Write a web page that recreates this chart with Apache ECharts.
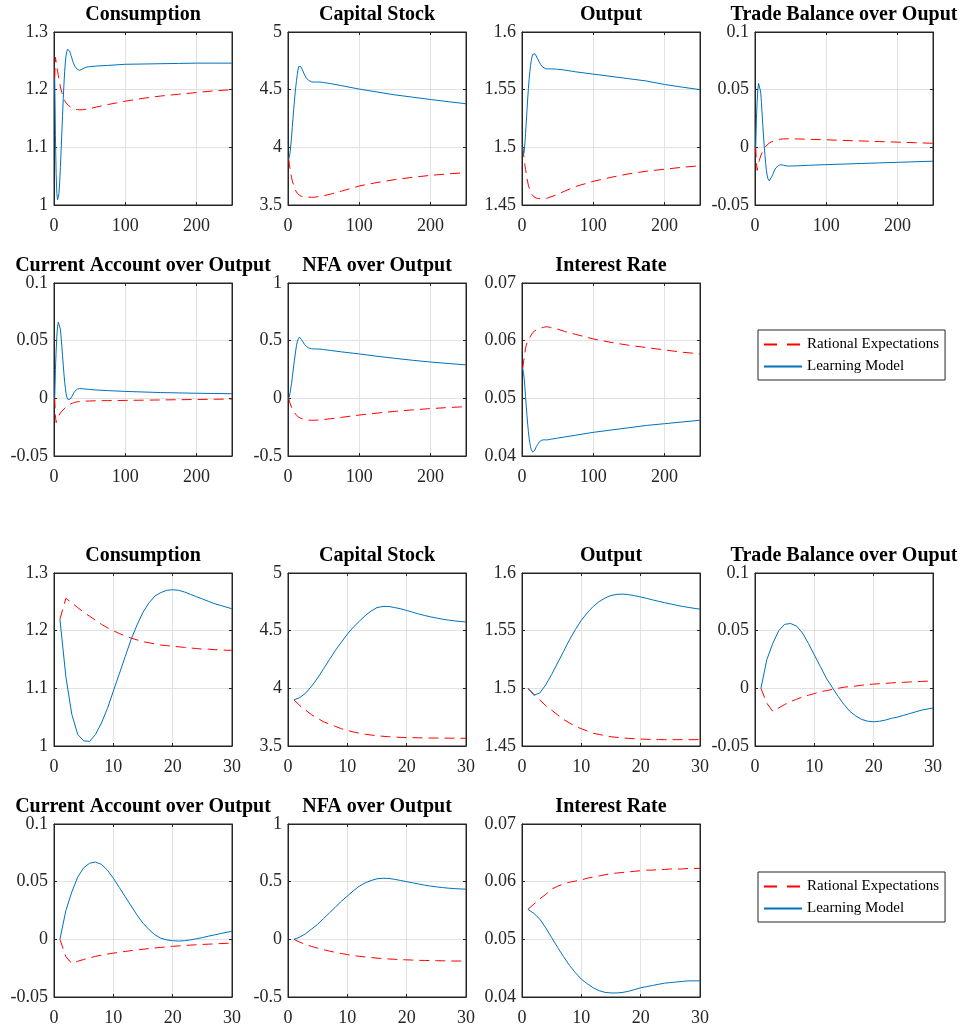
<!DOCTYPE html>
<html><head><meta charset="utf-8">
<script src="https://cdn.jsdelivr.net/npm/echarts@6/dist/echarts.min.js"></script>
<style>html,body{margin:0;padding:0;background:#fff}#c{width:964px;height:1028px}</style>
</head><body><div id="c"></div>
<script>
// ---------- data ----------
const tShort = [1,2,3,4,5,6,7,8,9,10,11,12,13,14,15,16,17,18,19,20,21,22,23,24,25,26,27,28,29,30];
const tExt = [33,36,40,45,50,60,75,100,125,150,175,200,225,250];

const seriesNames = ['Rational Expectations', 'Learning Model'];
const panelTitles = ['Consumption','Capital Stock','Output','Trade Balance over Ouput','Current Account over Output','NFA over Output','Interest Rate'];

// y-axis ranges / tick labels
const yMins = [1, 3.5, 1.45, -0.05, -0.05, -0.5, 0.04];
const yMaxs = [1.3, 5, 1.6, 0.1, 0.1, 1, 0.07];
const ySteps = [0.1, 0.5, 0.05, 0.05, 0.05, 0.5, 0.01];
const xTicksLong = [0, 100, 200];   // max 250
const xTicksShort = [0, 10, 20, 30];

// Consumption
const consRE = [1.22,1.256,1.248,1.24,1.232,1.225,1.218,1.211,1.205,1.2,1.195,1.191,1.187,1.184,1.181,1.179,1.177,1.175,1.174,1.173,1.172,1.171,1.170,1.169,1.168,1.168,1.167,1.167,1.166,1.166];
const consLM = [1.22,1.12,1.055,1.02,1.009,1.008,1.02,1.04,1.065,1.095,1.125,1.155,1.185,1.21,1.232,1.248,1.26,1.266,1.27,1.271,1.27,1.267,1.263,1.259,1.255,1.251,1.247,1.244,1.241,1.238];
const consREExt = [1.1655,1.165,1.1652,1.166,1.167,1.17,1.174,1.18,1.185,1.189,1.192,1.195,1.198,1.2];
const consLMExt = [1.235,1.2335,1.236,1.239,1.24,1.241,1.242,1.244,1.2445,1.245,1.2455,1.246,1.246,1.246];

// Capital stock
const capRE = [3.9,3.85,3.81,3.77,3.74,3.71,3.69,3.67,3.65,3.635,3.622,3.611,3.602,3.595,3.589,3.584,3.58,3.577,3.575,3.573,3.572,3.571,3.57,3.569,3.569,3.568,3.568,3.568,3.567,3.567];
const capLM = [3.9,3.92,3.96,4.02,4.09,4.17,4.25,4.33,4.4,4.47,4.53,4.58,4.63,4.67,4.7,4.71,4.71,4.7,4.69,4.675,4.66,4.645,4.632,4.62,4.61,4.6,4.592,4.585,4.58,4.575];
const capREExt = [3.567,3.567,3.57,3.575,3.58,3.595,3.62,3.665,3.695,3.72,3.74,3.757,3.77,3.78];
const capLMExt = [4.568,4.566,4.566,4.566,4.562,4.552,4.535,4.505,4.48,4.455,4.435,4.415,4.396,4.378];

// Output
const outRE = [1.5,1.495,1.49,1.485,1.481,1.477,1.473,1.47,1.467,1.465,1.463,1.461,1.46,1.459,1.458,1.4575,1.457,1.4566,1.4563,1.456,1.4558,1.4557,1.4556,1.4555,1.4555,1.4555,1.4555,1.4555,1.4555,1.4556];
const outLM = [1.5,1.494,1.496,1.503,1.512,1.522,1.532,1.542,1.551,1.559,1.5655,1.571,1.5752,1.5783,1.5805,1.5815,1.5817,1.5812,1.5803,1.5792,1.578,1.5767,1.5755,1.5743,1.5732,1.5721,1.5711,1.5702,1.5694,1.5687];
const outREExt = [1.4557,1.456,1.457,1.458,1.4595,1.462,1.466,1.4705,1.474,1.477,1.4793,1.481,1.4827,1.484];
const outLMExt = [1.5682,1.568,1.568,1.5679,1.5677,1.567,1.5655,1.5635,1.5615,1.5595,1.5575,1.5545,1.5522,1.55];

// Trade balance over output
const tbRE = [0,-0.013,-0.02,-0.017,-0.014,-0.0115,-0.0095,-0.0075,-0.006,-0.0045,-0.003,-0.002,-0.001,0,0.001,0.0015,0.002,0.0027,0.0032,0.0037,0.004,0.0043,0.0047,0.005,0.0052,0.0055,0.0057,0.006,0.0062,0.0064];
const tbLM = [0,0.025,0.039,0.05,0.0555,0.0562,0.054,0.048,0.039,0.029,0.019,0.009,0.001,-0.007,-0.014,-0.02,-0.024,-0.027,-0.0285,-0.029,-0.0285,-0.0275,-0.026,-0.025,-0.0235,-0.022,-0.0205,-0.019,-0.018,-0.017];
const tbREExt = [0.0068,0.0071,0.0073,0.0074,0.0074,0.0073,0.007,0.0065,0.006,0.0055,0.005,0.0045,0.004,0.0035];
const tbLMExt = [-0.0158,-0.015,-0.0155,-0.0162,-0.0162,-0.016,-0.0156,-0.015,-0.0145,-0.014,-0.0135,-0.013,-0.0125,-0.012];

// Current account over output
const caRE = [0,-0.015,-0.021,-0.019,-0.0175,-0.016,-0.0148,-0.0137,-0.0128,-0.012,-0.0112,-0.0105,-0.0098,-0.0092,-0.0086,-0.008,-0.0075,-0.007,-0.0065,-0.006,-0.0057,-0.0053,-0.005,-0.0047,-0.0044,-0.0042,-0.004,-0.0037,-0.0035,-0.0033];
const caLM = [0,0.025,0.041,0.054,0.062,0.066,0.067,0.065,0.06,0.053,0.045,0.037,0.029,0.021,0.014,0.0085,0.004,0.001,-0.0005,-0.0012,-0.0015,-0.0012,-0.0005,0.0005,0.0015,0.0027,0.0038,0.0049,0.006,0.007];
const caREExt = [-0.003,-0.0028,-0.0026,-0.0024,-0.0023,-0.0021,-0.002,-0.0018,-0.0016,-0.0014,-0.0012,-0.001,-0.0008,-0.0006];
const caLMExt = [0.008,0.0085,0.0083,0.008,0.0077,0.0072,0.0067,0.006,0.0055,0.005,0.0047,0.0044,0.0042,0.004];

// NFA over output
const nfaRE = [0,-0.025,-0.045,-0.062,-0.077,-0.09,-0.102,-0.113,-0.123,-0.132,-0.14,-0.147,-0.153,-0.158,-0.163,-0.167,-0.17,-0.173,-0.176,-0.178,-0.18,-0.182,-0.183,-0.184,-0.185,-0.186,-0.187,-0.188,-0.188,-0.189];
const nfaLM = [0,0.02,0.05,0.09,0.13,0.18,0.23,0.28,0.33,0.375,0.42,0.46,0.49,0.51,0.525,0.53,0.528,0.52,0.51,0.5,0.49,0.48,0.47,0.462,0.455,0.449,0.444,0.44,0.437,0.435];
const nfaREExt = [-0.19,-0.19,-0.189,-0.187,-0.184,-0.177,-0.165,-0.145,-0.128,-0.113,-0.1,-0.089,-0.08,-0.072];
const nfaLMExt = [0.43,0.428,0.428,0.427,0.423,0.415,0.403,0.385,0.365,0.347,0.33,0.315,0.302,0.29];

// Interest rate
const irRE = [0.0552,0.0561,0.057,0.0578,0.0587,0.0592,0.0596,0.0599,0.0601,0.0603,0.0606,0.0608,0.061,0.0612,0.0614,0.0615,0.0616,0.0617,0.0618,0.0619,0.062,0.062,0.0621,0.0621,0.0622,0.0622,0.0622,0.0623,0.0623,0.0623];
const irLM = [0.0552,0.0545,0.0535,0.052,0.0503,0.0486,0.047,0.0455,0.0442,0.0431,0.0423,0.0416,0.0411,0.0408,0.0407,0.0407,0.0408,0.041,0.0413,0.0416,0.0418,0.042,0.0422,0.0424,0.0425,0.0426,0.0427,0.0428,0.0428,0.0428];
const irREExt = [0.0624,0.0624,0.0623,0.0621,0.062,0.0616,0.0611,0.0603,0.0597,0.0592,0.0588,0.0584,0.058,0.0577];
const irLMExt = [0.0428,0.0428,0.0429,0.043,0.0431,0.0433,0.0436,0.0441,0.0445,0.0449,0.0453,0.0456,0.0459,0.0462];

const shortRE = [consRE, capRE, outRE, tbRE, caRE, nfaRE, irRE];
const shortLM = [consLM, capLM, outLM, tbLM, caLM, nfaLM, irLM];
const extRE = [consREExt, capREExt, outREExt, tbREExt, caREExt, nfaREExt, irREExt];
const extLM = [consLMExt, capLMExt, outLMExt, tbLMExt, caLMExt, nfaLMExt, irLMExt];

// ---------- layout ----------
const colLeft = [54, 288, 522, 755];
const rowTop = [32, 283, 573, 824];
const plotW = 178, plotH = 173;
const FONT = 'Liberation Serif';
const AXC = '#262626';

const grids = [], xAxes = [], yAxes = [], series = [], titles = [];
function pairs(xs, ys) { return xs.map((x, i) => [x, ys[i]]); }

let gi = 0;
for (let group = 0; group < 2; group++) {
  const isLong = group === 0;
  for (let p = 0; p < 7; p++) {
    const row = group * 2 + (p < 4 ? 0 : 1);
    const col = p % 4;
    const left = colLeft[col], top = rowTop[row];
    grids.push({ left: left, top: top, width: plotW, height: plotH, containLabel: false,
      show: true, borderColor: AXC, borderWidth: 1, backgroundColor: '#fff' });
    titles.push({ text: panelTitles[p], left: left + plotW / 2, top: top - 27, textAlign: 'center', padding: 0,
      textStyle: { fontFamily: FONT, fontSize: 20, fontWeight: 'bold', color: '#000' } });
    const xMax = isLong ? 250 : 30;
    const xInt = isLong ? 100 : 10;
    const baseX = { type: 'value', gridIndex: gi, min: 0, max: xMax, interval: xInt };
    xAxes.push(Object.assign({}, baseX, { position: 'bottom',
      axisLine: { show: true, onZero: false, lineStyle: { color: AXC, width: 1 } },
      axisTick: { show: true, inside: true, length: 3, lineStyle: { color: AXC } },
      axisLabel: { show: true, margin: 12, showMaxLabel: !isLong, showMinLabel: true,
        fontFamily: FONT, fontSize: 18, color: AXC },
      splitLine: { show: true, lineStyle: { color: '#e2e2e2', width: 1 } } }));
    xAxes.push(Object.assign({}, baseX, { position: 'top',
      axisLine: { show: true, onZero: false, lineStyle: { color: AXC, width: 1 } },
      axisTick: { show: true, inside: true, length: 3, lineStyle: { color: AXC } },
      axisLabel: { show: false }, splitLine: { show: false } }));
    const baseY = { type: 'value', gridIndex: gi, min: yMins[p], max: yMaxs[p], interval: ySteps[p] };
    yAxes.push(Object.assign({}, baseY, { position: 'left',
      axisLine: { show: true, onZero: false, lineStyle: { color: AXC, width: 1 } },
      axisTick: { show: true, inside: true, length: 3, lineStyle: { color: AXC } },
      axisLabel: { show: true, margin: 6, showMinLabel: true, showMaxLabel: true,
        fontFamily: FONT, fontSize: 18, color: AXC },
      splitLine: { show: true, lineStyle: { color: '#e2e2e2', width: 1 } } }));
    yAxes.push(Object.assign({}, baseY, { position: 'right',
      axisLine: { show: true, onZero: false, lineStyle: { color: AXC, width: 1 } },
      axisTick: { show: true, inside: true, length: 3, lineStyle: { color: AXC } },
      axisLabel: { show: false }, splitLine: { show: false } }));

    const xs = isLong ? tShort.concat(tExt) : tShort;
    const ysRE = isLong ? shortRE[p].concat(extRE[p]) : shortRE[p];
    const ysLM = isLong ? shortLM[p].concat(extLM[p]) : shortLM[p];
    series.push({ name: seriesNames[0], type: 'line', xAxisIndex: 2 * gi, yAxisIndex: 2 * gi,
      data: pairs(xs, ysRE), symbol: 'none', smooth: false, clip: true,
      lineStyle: { color: '#ff0000', width: 1, type: [10, 6] }, itemStyle: { color: '#ff0000' } });
    series.push({ name: seriesNames[1], type: 'line', xAxisIndex: 2 * gi, yAxisIndex: 2 * gi,
      data: pairs(xs, ysLM), symbol: 'none', smooth: false, clip: true,
      lineStyle: { color: '#0072bd', width: 1, type: 'solid' }, itemStyle: { color: '#0072bd' } });
    gi++;
  }
}

const legendBase = {
  orient: 'vertical', left: 758, itemWidth: 38, itemHeight: 14, itemGap: 7,
  padding: [7, 6, 6, 5], borderColor: AXC, borderWidth: 1, backgroundColor: '#fff',
  textStyle: { fontFamily: FONT, fontSize: 15, color: '#000' },
  itemStyle: { opacity: 0, borderWidth: 0 },
  data: [ { name: seriesNames[0], lineStyle: { type: [13, 10] } }, { name: seriesNames[1] } ],
  selectedMode: false
};
const legends = [
  Object.assign({}, legendBase, { top: 330 }),
  Object.assign({}, legendBase, { top: 872 })
];

const chart = echarts.init(document.getElementById('c'), null, { renderer: 'canvas' });
chart.setOption({
  animation: false,
  backgroundColor: '#fff',
  title: titles,
  legend: legends,
  grid: grids,
  xAxis: xAxes,
  yAxis: yAxes,
  series: series
});
</script></body></html>
